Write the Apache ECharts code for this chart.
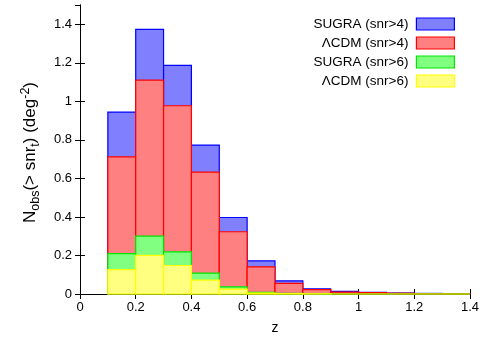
<!DOCTYPE html>
<html>
<head>
<meta charset="utf-8">
<script src="https://cdn.jsdelivr.net/npm/echarts@6/dist/echarts.min.js"></script>
<style>
  html, body { margin: 0; padding: 0; background: #fff; }
  #chart { width: 482px; height: 340px; }
</style>
</head>
<body>
<div id="chart"></div>
<script>
// bin edges in z (width 0.1)
const binStart = [0.1, 0.2, 0.3, 0.4, 0.5, 0.6, 0.7, 0.8, 0.9, 1.0, 1.1, 1.2, 1.3]
const binEnd   = [0.2, 0.3, 0.4, 0.5, 0.6, 0.7, 0.8, 0.9, 1.0, 1.1, 1.2, 1.3, 1.4]
const sugra4 = [0.944, 1.374, 1.187, 0.773, 0.397, 0.172, 0.068, 0.027, 0.014, 0.008, 0.005, 0.003, 0.002]
const lcdm4  = [0.712, 1.110, 0.977, 0.633, 0.323, 0.141, 0.055, 0.023, 0.010, 0.007, 0.004, 0.002, 0.001]
const sugra6 = [0.210, 0.300, 0.219, 0.108, 0.037, 0.008, 0.003, 0.001, 0, 0, 0, 0, 0]
const lcdm6  = [0.127, 0.200, 0.148, 0.072, 0.025, 0.005, 0.002, 0.001, 0, 0, 0, 0, 0]
const names = ['SUGRA (snr>4)', 'ΛCDM (snr>4)', 'SUGRA (snr>6)', 'ΛCDM (snr>6)']
const xTicks = ['0', '0.2', '0.4', '0.6', '0.8', '1', '1.2', '1.4']

const styles = [
    {fill: 'rgb(128,128,255)', line: 'rgb(0,0,255)'},
    {fill: 'rgb(255,128,128)', line: 'rgb(255,0,0)'},
    {fill: 'rgb(128,255,128)', line: 'rgb(0,230,0)'},
    {fill: 'rgb(255,255,128)', line: 'rgb(255,255,0)'},
]
const allValues = [sugra4, lcdm4, sugra6, lcdm6]

function makeSeries(i) {
    const vals = allValues[i]
    return {
        name: names[i],
        type: 'custom',
        z: 2 + i,
        itemStyle: {color: styles[i].fill, borderColor: styles[i].line, borderWidth: 1.2},
        data: binStart.map((s, k) => [s, binEnd[k], vals[k]]),
        encode: {x: [0, 1], y: 2},
        renderItem: function (params, api) {
            const p0 = api.coord([api.value(0), api.value(2)])
            const p1 = api.coord([api.value(1), 0])
            return {
                type: 'rect',
                shape: {x: p0[0], y: p0[1], width: p1[0] - p0[0], height: p1[1] - p0[1]},
                style: {fill: styles[i].fill, stroke: styles[i].line, lineWidth: 1.2}
            }
        }
    }
}

const chart = echarts.init(document.getElementById('chart'))
const font = 'Liberation Sans, Arial, sans-serif'
const tickLabel = {color: '#000', fontSize: 13, fontFamily: font}
chart.setOption({
    animation: false,
    grid: {left: 80, right: 10, top: 5, bottom: 46},
    legend: {
        right: 22,
        top: 12,
        orient: 'vertical',
        align: 'right',
        itemWidth: 38,
        itemHeight: 12,
        itemGap: 5,
        icon: 'rect',
        textStyle: {fontSize: 13.5, fontFamily: font, color: '#000', padding: [0, 3, 0, 0]},
        data: names.map((n, i) => ({
            name: n,
            itemStyle: {color: styles[i].fill, borderColor: styles[i].line, borderWidth: 1.2}
        }))
    },
    xAxis: [
        {
            type: 'value', min: 0, max: 1.4, interval: 0.2, position: 'bottom',
            name: 'z', nameLocation: 'middle', nameGap: 27,
            nameTextStyle: {fontSize: 14, fontFamily: font, color: '#000'},
            axisLine: {lineStyle: {color: '#000', width: 1}},
            axisTick: {inside: true, length: 5, lineStyle: {color: '#000'}},
            axisLabel: Object.assign({margin: 7, formatter: (v) => xTicks[Math.round(v / 0.2)]}, tickLabel),
            splitLine: {show: false}
        },
        {
            type: 'value', min: 0, max: 1.4, interval: 0.2, position: 'top',
            axisLine: {show: true, lineStyle: {color: '#000', width: 1}},
            axisTick: {inside: true, length: 5, lineStyle: {color: '#000'}},
            axisLabel: {show: false},
            splitLine: {show: false}
        }
    ],
    yAxis: [
        {
            type: 'value', min: 0, max: 1.5, interval: 0.2,
            name: '{n|N}{sub|obs}{n|(> snr}{sub|t}{n|) (deg}{sup|-2}{n|)}',
            nameLocation: 'middle', nameGap: 38, nameRotate: 90,
            nameTextStyle: {
                fontSize: 17, fontFamily: font, color: '#000', padding: [0, 6, 0, 0],
                rich: {
                    n: {fontSize: 17, fontFamily: font, color: '#000', lineHeight: 17},
                    sub: {fontSize: 12.5, fontFamily: font, color: '#000', lineHeight: 23, verticalAlign: 'bottom'},
                    sup: {fontSize: 12.5, fontFamily: font, color: '#000', lineHeight: 12, verticalAlign: 'top'}
                }
            },
            axisLine: {show: true, lineStyle: {color: '#000', width: 1}},
            axisTick: {inside: true, length: 5, lineStyle: {color: '#000'}},
            axisLabel: Object.assign({margin: 8, showMaxLabel: false}, tickLabel),
            splitLine: {show: false}
        },
        {
            type: 'value', min: 0, max: 1.5, interval: 0.2, position: 'right',
            axisLine: {show: true, lineStyle: {color: '#000', width: 1}},
            axisTick: {inside: true, length: 5, lineStyle: {color: '#000'}},
            axisLabel: {show: false},
            splitLine: {show: false}
        }
    ],
    series: [0, 1, 2, 3].map(makeSeries)
})
</script>
</body>
</html>
